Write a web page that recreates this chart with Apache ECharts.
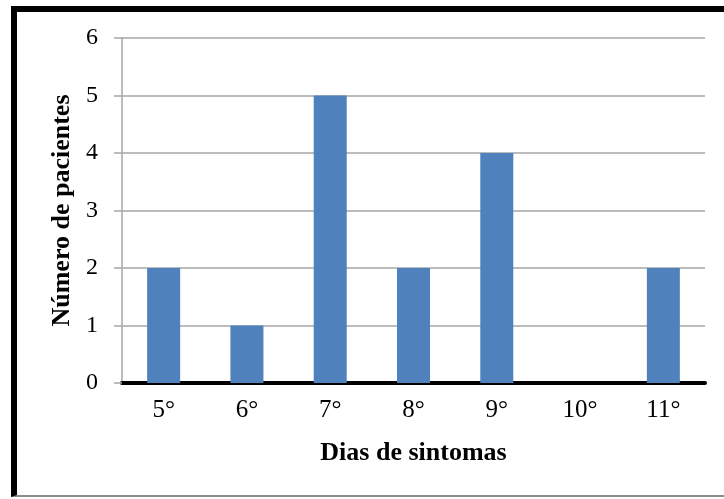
<!DOCTYPE html>
<html>
<head>
<meta charset="utf-8">
<script src="https://cdn.jsdelivr.net/npm/echarts@6/dist/echarts.min.js"></script>
<style>
html,body{margin:0;padding:0;background:#fff;}
#chart{position:absolute;left:0;top:0;width:724px;height:499px;}
#frame{position:absolute;left:11px;top:6px;width:720px;height:491px;border-left:6px solid #000;border-top:6px solid #000;border-bottom:2px solid #8c8c8c;box-sizing:border-box;pointer-events:none;}
</style>
</head>
<body>
<div id="chart"></div>
<div id="frame"></div>
<script>
const categories = ['5°','6°','7°','8°','9°','10°','11°'];
const pacientes = [2, 1, 5, 2, 4, 0, 2];
const yTicks = [0, 1, 2, 3, 4, 5, 6];

const chart = echarts.init(document.getElementById('chart'), null, {renderer:'canvas'});
chart.setOption({
  animation: false,
  backgroundColor: '#fff',
  grid: {left: 122, right: 19, top: 38, bottom: 116},
  xAxis: {
    type: 'category',
    data: categories,
    name: 'Dias de sintomas',
    nameLocation: 'middle',
    nameGap: 57,
    nameTextStyle: {fontFamily: 'Liberation Serif', fontWeight: 'bold', fontSize: 26, color: '#000'},
    axisLine: {lineStyle: {color: '#000', width: 4}},
    axisTick: {show: false},
    axisLabel: {fontFamily: 'Liberation Serif', fontSize: 25, color: '#000', margin: 15}
  },
  yAxis: {
    type: 'value',
    min: yTicks[0],
    max: yTicks[yTicks.length - 1],
    interval: 1,
    name: 'Número de pacientes',
    nameLocation: 'middle',
    nameGap: 47,
    nameRotate: 90,
    nameTextStyle: {fontFamily: 'Liberation Serif', fontWeight: 'bold', fontSize: 26, color: '#000'},
    axisLine: {show: true, lineStyle: {color: '#a6a6a6', width: 1.5}},
    axisTick: {show: true, length: 8, lineStyle: {color: '#a6a6a6', width: 1.5}},
    axisLabel: {fontFamily: 'Liberation Serif', fontSize: 24, color: '#000', margin: 24},
    splitLine: {lineStyle: {color: '#a6a6a6', width: 1.5}}
  },
  series: [{
    type: 'bar',
    data: pacientes,
    barWidth: 33,
    itemStyle: {color: '#4f81bd'}
  }]
});
</script>
</body>
</html>
